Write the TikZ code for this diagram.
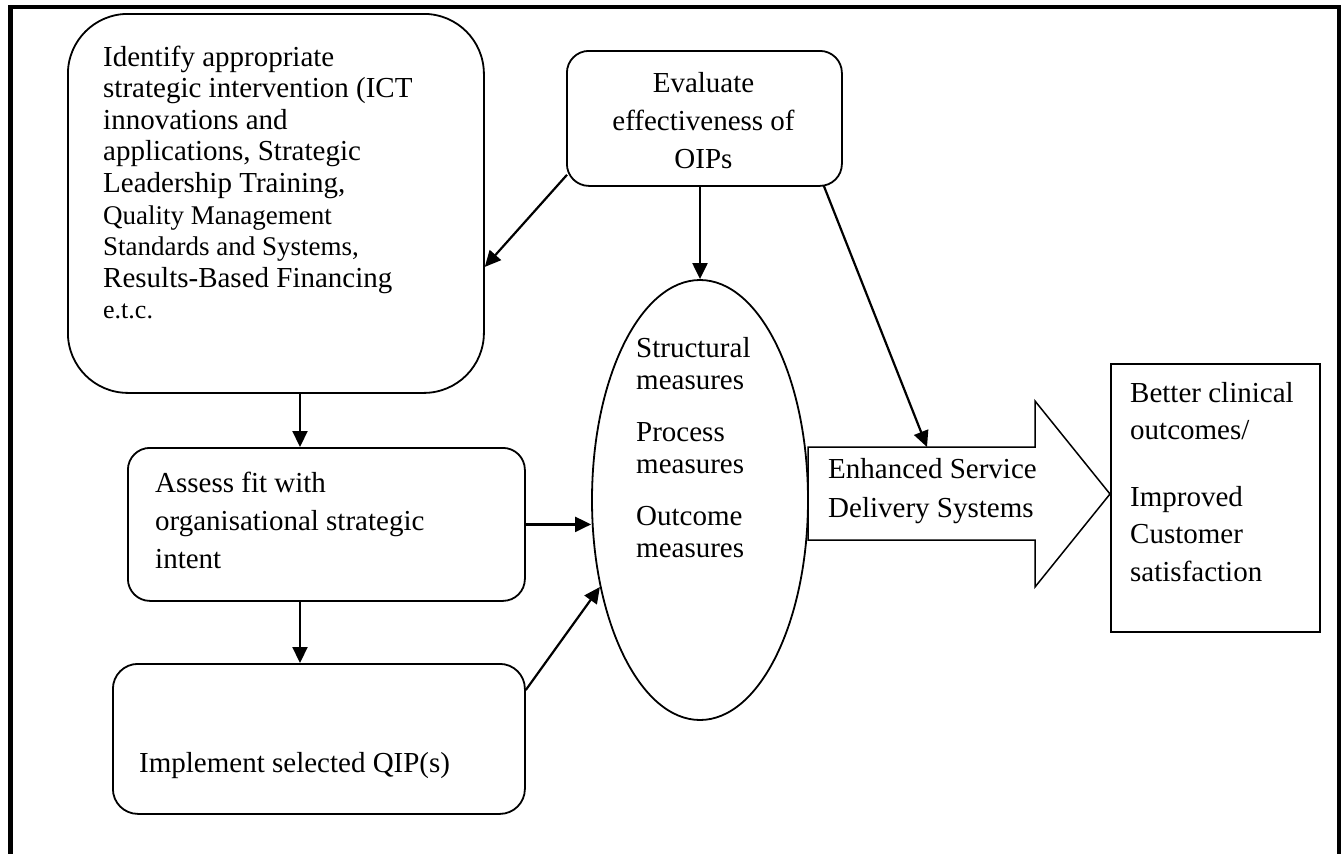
\documentclass[tikz,border=0pt]{standalone}
\usepackage{fontspec}
\setmainfont{Liberation Serif}
\usetikzlibrary{shapes.geometric,arrows.meta,calc}
\begin{document}
\begin{tikzpicture}[x=1pt,y=-1pt,
  box/.style={draw, line width=1.8pt, rounded corners=#1, anchor=north west, inner sep=0pt},
  arr/.style={line width=2.2pt, -{Triangle[length=16pt,width=15pt]}},
  txt/.style={anchor=base west, inner sep=0pt}]
\useasboundingbox (0,0) rectangle (1342,854);
% frame
\draw[line width=4.6pt] (10.5,860) -- (10.5,7) -- (1339,7) -- (1339,860);
% boxes
\node[box=60pt, minimum width=416pt, minimum height=379pt] (box1) at (67,13) {};
\node[box=22pt, minimum width=275pt, minimum height=135pt] (eval) at (566,50) {};
\node[box=22pt, minimum width=397pt, minimum height=153pt] (assess) at (127,447) {};
\node[box=25pt, minimum width=412pt, minimum height=150pt] (impl) at (112,663) {};
\node[draw, line width=1.5pt, anchor=north west, inner sep=0pt, minimum width=209pt, minimum height=268pt] (better) at (1110,363) {};
\node[draw, ellipse, line width=1.8pt, inner sep=0pt, minimum width=216pt, minimum height=440pt] (ell) at (700,500) {};
% block arrow
\draw[line width=1.5pt, line join=miter] (808,447) -- (1035,447) -- (1035,401) -- (1110,494) -- (1035,587) -- (1035,540) -- (808,540) -- cycle;
\coordinate (bat) at (927,447);
% texts
\node[txt] (t1) at (103,66) {\parbox[t]{400pt}{\raggedright\fontsize{29}{31.6}\selectfont
Identify appropriate\\
strategic intervention (ICT\\
innovations and\\
applications, Strategic\\
Leadership Training,\\
{\fontsize{27}{31.6}\selectfont Quality Management}\\
{\fontsize{27}{31.6}\selectfont Standards and Systems,}\\
Results-Based Financing\\
{\fontsize{26}{31.6}\selectfont e.t.c.}}};
\node[anchor=base, inner sep=0pt] (t2) at (703.5,92) {\parbox[t]{270pt}{\centering\fontsize{29}{38}\selectfont
Evaluate\\ effectiveness of\\ OIPs}};
\node[txt] (t3) at (155,492) {\parbox[t]{360pt}{\raggedright\fontsize{29}{38}\selectfont
Assess fit with\\ organisational strategic\\ intent}};
\node[txt, font=\fontsize{29}{38}\selectfont] (t4) at (139,772) {Implement selected QIP(s)};
\node[txt] (t5) at (636,357) {\parbox[t]{160pt}{\raggedright\fontsize{29}{32}\selectfont
Structural\\ measures\\[20pt] Process\\ measures\\[20pt] Outcome\\ measures}};
\node[txt] (t6) at (828,478) {\parbox[t]{220pt}{\raggedright\fontsize{29}{39}\selectfont
Enhanced Service\\ Delivery Systems}};
\node[txt] (t7) at (1130,402) {\parbox[t]{200pt}{\raggedright\fontsize{29}{37.5}\selectfont
Better clinical\\ outcomes/\\[29pt] Improved\\ Customer\\ satisfaction}};
% connectors
\coordinate (c1) at (300,0);
\draw[arr] (box1.south -| c1) -- (assess.north -| c1);
\draw[arr] (assess.south -| c1) -- (impl.north -| c1);
\draw[arr] (assess.east) -- (assess.east -| ell.west);
\draw[arr] ($(impl.north east)+(0,27)$) -- (ell.221);
\draw[arr] (eval.south -| ell.north) -- (ell.north);
\draw[arr] ($(eval.south west)+(1,-12)$) -- ($(box1.east)+(0,63.5)$);
\draw[arr] ($(eval.south east)+(-19,-1)$) -- (bat);
\end{tikzpicture}
\end{document}
